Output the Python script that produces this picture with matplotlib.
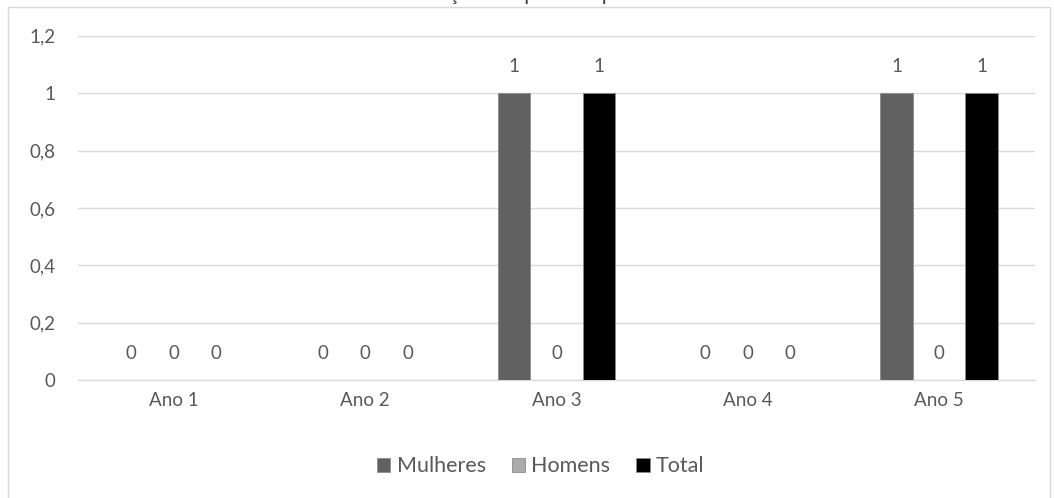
import matplotlib.pyplot as plt
from matplotlib.patches import Rectangle
import numpy as np

plt.rcParams['font.family'] = ['Lato', 'DejaVu Sans']

# Dados por ano
anos = ['Ano 1', 'Ano 2', 'Ano 3', 'Ano 4', 'Ano 5']
mulheres = [0, 0, 1, 0, 1]
homens = [0, 0, 0, 0, 0]
total = [0, 0, 1, 0, 1]

series = [('Mulheres', mulheres, '#616161'),
          ('Homens', homens, '#ababab'),
          ('Total', total, '#000000')]

cinza_texto = '#595959'
cinza_grelha = '#d9d9d9'

fig = plt.figure(figsize=(10.54, 4.98), dpi=100)
ax = fig.add_axes([0.074, 0.237, 0.908, 0.691])

x = np.arange(len(anos))
largura = 0.172
passo = 0.222

for i, (nome, valores, cor) in enumerate(series):
    pos = x + (i - 1) * passo
    ax.bar(pos, valores, largura, color=cor, edgecolor='#8c8c8c',
           linewidth=0.6, label=nome, zorder=3)
    # Rótulos de valor por cima de cada barra
    for xb, v in zip(pos, valores):
        ax.text(xb, v + 0.092, f'{v}', ha='center', va='center',
                fontsize=13.5, color=cinza_texto)

ax.set_xlim(-0.5, len(anos) - 0.5)
ax.set_ylim(0, 1.2)
ax.set_yticks([0, 0.2, 0.4, 0.6, 0.8, 1.0, 1.2])
ax.set_yticklabels(['0', '0,2', '0,4', '0,6', '0,8', '1', '1,2'])
ax.set_xticks(x)
ax.set_xticklabels(anos)
ax.tick_params(axis='both', length=0, labelsize=13.5, labelcolor=cinza_texto)
ax.tick_params(axis='y', pad=16)
ax.tick_params(axis='x', pad=9)

ax.grid(axis='y', color=cinza_grelha, linewidth=1, zorder=0)
for lado in ['top', 'right', 'left']:
    ax.spines[lado].set_visible(False)
ax.spines['bottom'].set_color(cinza_grelha)
ax.spines['bottom'].set_linewidth(1)

fig.legend(loc='center', bbox_to_anchor=(0.513, 0.064), ncol=3, frameon=False,
           fontsize=15.5, handlelength=0.62, handleheight=0.62,
           handletextpad=0.3, columnspacing=1.2, labelcolor=cinza_texto)

# Título (parcialmente cortado no topo)
fig.text(0.503, 1 - 0.4 / 498, 'Promoções de pessoas por ano',
         ha='center', va='baseline', fontsize=15, color='#404040')

# Moldura da área do gráfico
fig.add_artist(Rectangle((8 / 1054, -0.02), 1042 / 1054, 1 - 7 / 498 + 0.02,
                         transform=fig.transFigure, fill=False,
                         edgecolor='#d9d9d9', linewidth=1))

fig.savefig('out.png', dpi=100)
